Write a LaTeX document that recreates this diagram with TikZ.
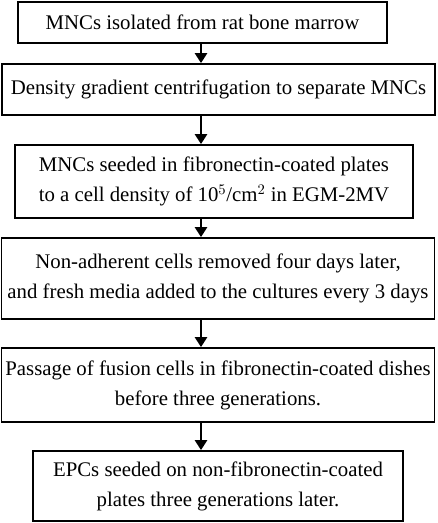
\documentclass[tikz,border=0pt]{standalone}
\usepackage{fontspec}
\setmainfont{Liberation Serif}
\usetikzlibrary{arrows.meta,positioning}

\tikzset{
  stepbox/.style={draw, line width=1.3pt, align=center, inner sep=0pt,
    font=\fontsize{15.6}{22.5}\selectfont},
  flowarrow/.style={line width=1.9pt, -{Triangle[length=7.5pt,width=9pt]}},
}

\begin{document}
\begin{tikzpicture}[x=0.75pt,y=0.75pt,yscale=-1,xscale=1]
\useasboundingbox (0,0) rectangle (437,523);

% Boxes
\node[stepbox, minimum width=276.75pt, minimum height=30.75pt] (iso) at (202.5,22.5)
  {MNCs isolated from rat bone marrow};
\node[stepbox, minimum width=324.75pt, minimum height=38.25pt] (dens) at (218.5,89.5)
  {Density gradient centrifugation to separate MNCs};
\node[stepbox, minimum width=298.5pt, minimum height=54.75pt] (seed) at (214,181.5)
  {MNCs seeded in fibronectin-coated plates\\ to a cell density of 10$^{5}$/cm$^{2}$ in EGM-2MV};
\node[stepbox, minimum width=324.75pt, minimum height=60.75pt] (remove) at (218,278.5)
  {Non-adherent cells removed four days later,\\ and fresh media added to the cultures every 3 days};
\node[stepbox, minimum width=324.75pt, minimum height=55.5pt] (pass) at (218,385)
  {Passage of fusion cells in fibronectin-coated dishes\\ before three generations.};
\node[stepbox, minimum width=277.5pt, minimum height=52.5pt] (epc) at (218,486)
  {EPCs seeded on non-fibronectin-coated\\ plates three generations later.};

% Arrows
\coordinate (ax) at (201,0);
\draw[flowarrow] (iso.south -| ax) -- (dens.north -| ax);
\draw[flowarrow] (dens.south -| ax) -- (seed.north -| ax);
\draw[flowarrow] (seed.south -| ax) -- (remove.north -| ax);
\draw[flowarrow] (remove.south -| ax) -- (pass.north -| ax);
\draw[flowarrow] (pass.south -| ax) -- (epc.north -| ax);

\end{tikzpicture}
\end{document}
